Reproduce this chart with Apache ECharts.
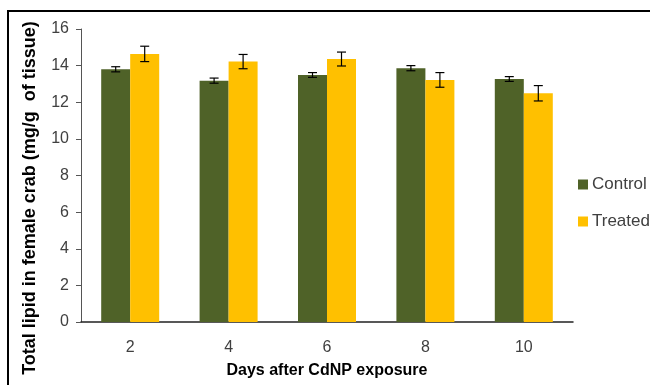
<!DOCTYPE html>
<html>
<head>
<meta charset="utf-8">
<script src="https://cdn.jsdelivr.net/npm/echarts@6/dist/echarts.min.js"></script>
<style>
  html, body { margin: 0; padding: 0; background: #fff; }
  #chart { width: 650px; height: 385px; }
</style>
</head>
<body>
<div id="chart"></div>
<script>
// Days after exposure (categories)
const days = ['2', '4', '6', '8', '10'];
// Mean total lipid (mg/g of tissue)
const controlMean = [13.80, 13.18, 13.49, 13.86, 13.27];
const treatedMean = [14.64, 14.22, 14.36, 13.22, 12.49];
// Standard error for each mean
const controlErr = [0.14, 0.14, 0.13, 0.14, 0.13];
const treatedErr = [0.42, 0.39, 0.38, 0.40, 0.42];
// Y axis ticks
const yTicks = [0, 2, 4, 6, 8, 10, 12, 14, 16];

const BAR_W = 29;
const FONT = '"Liberation Sans", "DejaVu Sans", sans-serif';
const Y_TITLE = 'Total lipid in female crab (mg/g  of tissue)';

function errorSeries(name, means, errs, offset) {
  return {
    type: 'custom',
    name: name + ' error',
    z: 10,
    silent: true,
    data: means.map((m, i) => [i, m - errs[i], m + errs[i]]),
    renderItem: function (params, api) {
      const lo = api.coord([api.value(0), api.value(1)]);
      const hi = api.coord([api.value(0), api.value(2)]);
      const x = lo[0] + offset;
      const cap = 4.5;
      const style = { stroke: '#000', lineWidth: 1.2 };
      return {
        type: 'group',
        children: [
          { type: 'line', shape: { x1: x, y1: lo[1], x2: x, y2: hi[1] }, style },
          { type: 'line', shape: { x1: x - cap, y1: lo[1], x2: x + cap, y2: lo[1] }, style },
          { type: 'line', shape: { x1: x - cap, y1: hi[1], x2: x + cap, y2: hi[1] }, style }
        ]
      };
    }
  };
}

const chart = echarts.init(document.getElementById('chart'), null, { renderer: 'canvas' });
chart.setOption({
  animation: false,
  backgroundColor: '#ffffff',
  graphic: [
    {
      type: 'rect',
      shape: { x: 8, y: 11, width: 700, height: 400 },
      style: { fill: 'none', stroke: '#000', lineWidth: 2 },
      silent: true,
      z: 100
    },
    {
      // vertical axis title, centred on the full frame height
      type: 'text',
      x: 30,
      y: 198,
      rotation: Math.PI / 2,
      silent: true,
      style: {
        text: Y_TITLE,
        textAlign: 'center',
        textVerticalAlign: 'middle',
        fontFamily: FONT,
        fontSize: 18,
        fontWeight: 'bold',
        fill: '#000'
      }
    }
  ],
  grid: { left: 81, right: 77, top: 29, bottom: 63, containLabel: false },
  legend: {
    orient: 'vertical',
    left: 573,
    top: 171,
    itemWidth: 10,
    itemHeight: 10,
    itemGap: 20,
    icon: 'rect',
    data: ['Control', 'Treated'],
    textStyle: { fontFamily: FONT, fontSize: 17, color: '#404040', padding: [0, 0, 0, -1] }
  },
  xAxis: {
    type: 'category',
    data: days,
    name: 'Days after CdNP exposure',
    nameLocation: 'middle',
    nameGap: 41,
    nameTextStyle: { fontFamily: FONT, fontSize: 16, fontWeight: 'bold', color: '#000' },
    axisLine: { lineStyle: { color: '#222', width: 1.5 } },
    axisTick: { show: false },
    axisLabel: { fontFamily: FONT, fontSize: 16, color: '#404040', margin: 18 }
  },
  yAxis: {
    type: 'value',
    min: yTicks[0],
    max: yTicks[yTicks.length - 1],
    interval: 2,
    axisLine: { show: true, lineStyle: { color: '#555', width: 1 } },
    axisTick: { show: true, inside: false, length: 5, lineStyle: { color: '#555' } },
    splitLine: { show: false },
    axisLabel: { fontFamily: FONT, fontSize: 16, color: '#404040', margin: 12 }
  },
  series: [
    {
      name: 'Control',
      type: 'bar',
      data: controlMean,
      barWidth: BAR_W,
      barGap: '0%',
      itemStyle: { color: '#4F6228' }
    },
    {
      name: 'Treated',
      type: 'bar',
      data: treatedMean,
      barWidth: BAR_W,
      barGap: '0%',
      itemStyle: { color: '#FFC000' }
    },
    errorSeries('Control', controlMean, controlErr, -BAR_W / 2),
    errorSeries('Treated', treatedMean, treatedErr, BAR_W / 2)
  ]
});
</script>
</body>
</html>
